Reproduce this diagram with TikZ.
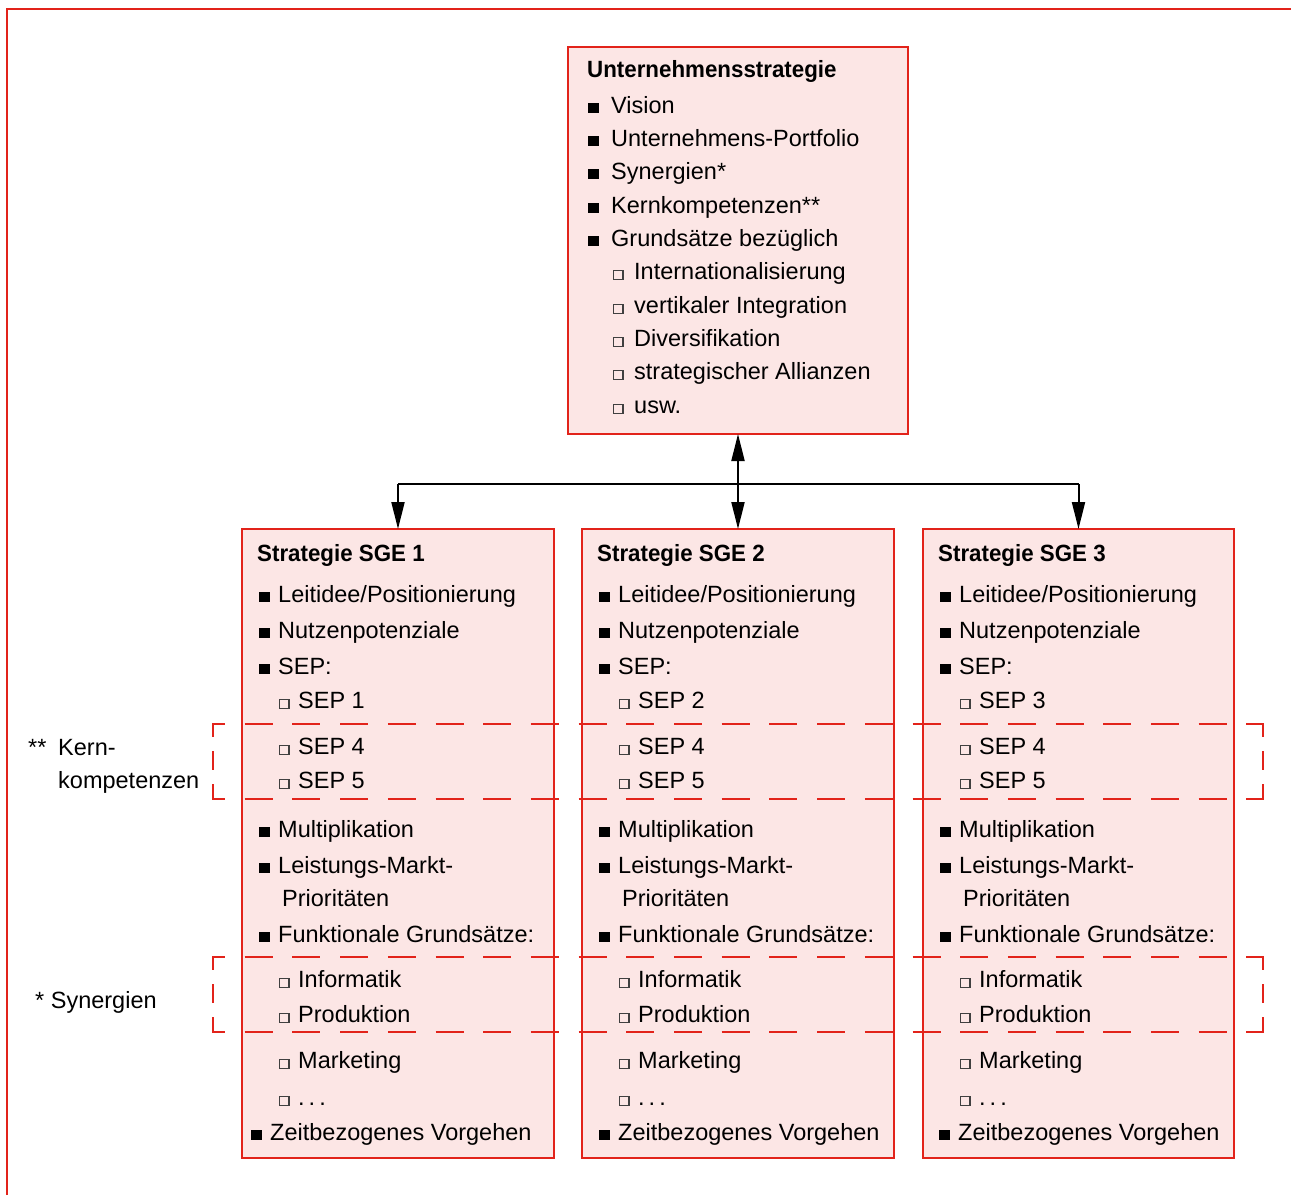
\documentclass[tikz,border=0pt]{standalone}
\usepackage{fontspec}
\setmainfont{Liberation Sans}[BoldFeatures={FakeStretch=0.95}]
\usetikzlibrary{arrows.meta}
\definecolor{fr}{RGB}{226,35,26}
\definecolor{pk}{RGB}{252,230,229}
\newcommand\fb{\rule{10.5pt}{10pt}\hspace{12.5pt}}
\newcommand\hb{{\color{black!75}\setlength\fboxsep{0pt}\setlength\fboxrule{1.2pt}\fbox{\rule{8pt}{0pt}\rule{0pt}{8pt}}}\hspace{10.6pt}}
\newcommand\fbs{\rule{11pt}{10pt}\hspace{8pt}}
\newcommand\hbs{{\color{black!75}\setlength\fboxsep{0pt}\setlength\fboxrule{1.2pt}\fbox{\rule{8pt}{0pt}\rule{0pt}{8pt}}}\hspace{8.6pt}}
\newcommand\dotsx{.\hspace{4pt}.\hspace{4pt}.}
\begin{document}
\begin{tikzpicture}[x=1pt,y=-1pt,
  font=\fontsize{23.5}{28}\selectfont,
  box/.style={draw=fr, fill=pk, line width=2pt, inner sep=0pt, outer sep=0pt, anchor=north west},
  txt/.style={anchor=base west, inner sep=0pt},
  tip/.style={line width=2pt},
  dsh/.style={draw=fr, line width=2pt}]
\useasboundingbox (0,0) rectangle (1291,1195);
% frame
\draw[fr, line width=2pt] (7,1195) -- (7,9) -- (1291,9);
% top box
\node[box, minimum width=340pt, minimum height=387pt] (top) at (568,47) {};
\node[txt, font=\fontsize{23.5}{28}\selectfont\bfseries] (t0) at (587,77) {Unternehmensstrategie};
\node[txt] (t1) at (588,113) {\fb Vision};
\node[txt] (t2) at (588,146) {\fb Unternehmens-Portfolio};
\node[txt] (t3) at (588,179) {\fb Synergien*};
\node[txt] (t4) at (588,213) {\fb Kernkompetenzen**};
\node[txt] (t5) at (588,246) {\fb Grundsätze bezüglich};
\node[txt] (t6) at (613,279) {\hb Internationalisierung};
\node[txt] (t7) at (613,313) {\hb vertikaler Integration};
\node[txt] (t8) at (613,346) {\hb Diversifikation};
\node[txt] (t9) at (613,379) {\hb strategischer Allianzen};
\node[txt] (t10) at (613,413) {\hb usw.};
% SGE boxes
\foreach \i/\x/\w/\z in {1/242/312/9, 2/582/312/17, 3/923/311/16}{
  \node[box, minimum width=\w pt, minimum height=629pt] (s\i) at (\x,529) {};
  \node[txt, font=\fontsize{23.5}{28}\selectfont\bfseries] (s\i-t) at ({\x+15},561) {Strategie SGE \i};
  \node[txt] (s\i-a) at ({\x+17},602) {\fbs Leitidee/Positionierung};
  \node[txt] (s\i-b) at ({\x+17},638) {\fbs Nutzenpotenziale};
  \node[txt] (s\i-c) at ({\x+17},674) {\fbs SEP:};
  \node[txt] (s\i-d) at ({\x+37},708) {\hbs SEP \i};
  \node[txt] (s\i-e) at ({\x+37},754) {\hbs SEP 4};
  \node[txt] (s\i-f) at ({\x+37},788) {\hbs SEP 5};
  \node[txt] (s\i-g) at ({\x+17},837) {\fbs Multiplikation};
  \node[txt] (s\i-h) at ({\x+17},873) {\fbs Leistungs-Markt-};
  \node[txt] (s\i-i) at ({\x+40},906) {Prioritäten};
  \node[txt] (s\i-j) at ({\x+17},942) {\fbs Funktionale Grundsätze:};
  \node[txt] (s\i-k) at ({\x+37},987) {\hbs Informatik};
  \node[txt] (s\i-l) at ({\x+37},1022) {\hbs Produktion};
  \node[txt] (s\i-m) at ({\x+37},1068) {\hbs Marketing};
  \node[txt] (s\i-n) at ({\x+37},1105) {\hbs \dotsx};
  \node[txt] (s\i-o) at ({\x+\z},1140) {\fbs Zeitbezogenes Vorgehen};
}
% left labels
\node[txt] (l1) at (28,755) {**};
\node[txt] (l2) at (58,755) {Kern-};
\node[txt] (l3) at (58,788) {kompetenzen};
\node[txt] (l4) at (35,1008) {* Synergien};
% dashed regions
\foreach \y in {724,799,957,1032}
  \draw[dsh, dash pattern=on 28pt off 19.7pt, dash phase=15pt] (212,\y) -- (1264,\y);
\foreach \y in {724,957}{
  \draw[dsh, dash pattern=on 14pt off 14pt on 19pt off 14pt on 14pt off 200pt] (213,{\y-1}) -- (213,{\y+76});
  \draw[dsh, dash pattern=on 14pt off 14pt on 19pt off 14pt on 14pt off 200pt] (1263,{\y-1}) -- (1263,{\y+76});
}
% connectors
\coordinate (j) at (738,484);
\draw[tip] (s1.north |- j) -- (s3.north |- j);
\draw[tip, -{Triangle[length=27pt,width=13pt]}] (s1.north |- j) -- (s1.north);
\draw[tip, -{Triangle[length=27pt,width=13pt]}] (s3.north |- j) -- (s3.north);
\draw[tip, {Triangle[length=27pt,width=13pt]}-{Triangle[length=27pt,width=13pt]}] (top.south) -- (s2.north);
\end{tikzpicture}
\end{document}
